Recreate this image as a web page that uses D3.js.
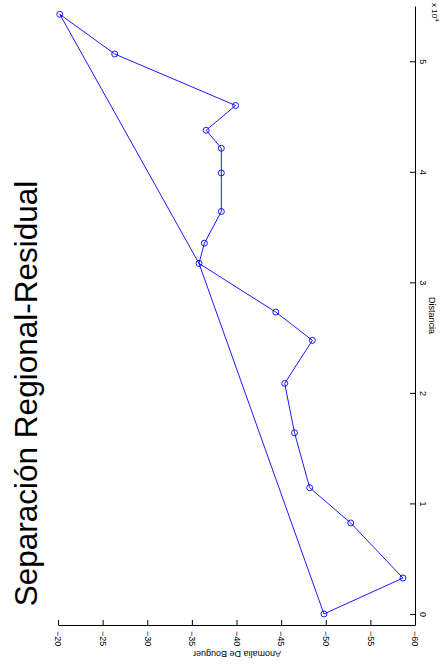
<!DOCTYPE html>
<html>
<head>
<meta charset="utf-8">
<script src="https://cdn.jsdelivr.net/npm/d3@7"></script>
<style>
  html, body { margin: 0; padding: 0; background: #ffffff; }
  svg { display: block; }
</style>
</head>
<body>
<svg id="chart" width="444" height="669"></svg>
<script>
// ---- data ----
const distancia = [0, 3250, 8230, 11420, 16390, 20860, 24750, 27310, 31710, 33540, 36410, 39900, 42130, 43760, 46000, 50660, 54250];
const anomalia  = [-49.8, -58.65, -52.8, -48.2, -46.5, -45.4, -48.5, -44.4, -35.8, -36.4, -38.3, -38.3, -38.3, -36.6, -39.9, -26.35, -20.2];
const regionalDist = [0, 31710, 54250];
const regionalAnom = [-49.8, -35.8, -20.2];
const anomaliaTicks = [-20, -25, -30, -35, -40, -45, -50, -55, -60];
const distanciaTicks = [0, 10000, 20000, 30000, 40000, 50000];
const titleText = "Separación Regional-Residual";
const xLabelText = "Distancia";
const yLabelText = "Anomalia De Bouguer";

const svg = d3.select("#chart");
const font = "Arial, 'Liberation Sans', Helvetica, sans-serif";
const blue = "#0000ff";

// Rotated chart: anomaly runs horizontally, distance runs vertically
const xA = d3.scaleLinear().domain([-20, -60]).range([58, 415]);
const yD = d3.scaleLinear().domain([-1000, 55000]).range([625, 6]);

// Bottom axis (Anomalia)
const gB = svg.append("g").attr("transform", "translate(0,625)")
  .call(d3.axisBottom(xA).tickValues(anomaliaTicks).tickSizeInner(-5).tickSizeOuter(0).tickFormat(d3.format("d")));
gB.select(".domain").attr("stroke", "#000");
gB.selectAll(".tick line").attr("stroke", "#000");
gB.selectAll(".tick text")
  .attr("font-family", font).attr("font-size", 9).attr("fill", "#000")
  .attr("text-anchor", "start")
  .attr("x", 0).attr("y", 0).attr("dy", null)
  .attr("transform", "translate(-3.2,6) rotate(90)");

// Right axis (Distancia)
const gR = svg.append("g").attr("transform", "translate(415,0)")
  .call(d3.axisRight(yD).tickValues(distanciaTicks).tickSizeInner(-5).tickSizeOuter(0).tickFormat(d => d / 10000));
gR.select(".domain").attr("stroke", "#000");
gR.selectAll(".tick line").attr("stroke", "#000");
gR.selectAll(".tick text")
  .attr("font-family", font).attr("font-size", 9).attr("fill", "#000")
  .attr("text-anchor", "middle")
  .attr("x", 0).attr("y", 0).attr("dy", null)
  .attr("transform", "translate(5,0) rotate(90)");

// x 10^4 multiplier
const mult = svg.append("text")
  .attr("transform", "translate(432,3) rotate(90)")
  .attr("font-family", font).attr("font-size", 8).attr("fill", "#000");
mult.append("tspan").text("x 10");
mult.append("tspan").attr("dy", -3).attr("font-size", 6).text("4");

// Axis labels
svg.append("text")
  .attr("transform", `translate(429,${(yD(-1000) + yD(55000)) / 2}) rotate(90)`)
  .attr("text-anchor", "middle")
  .attr("font-family", font).attr("font-size", 9).attr("fill", "#000")
  .text(xLabelText);

svg.append("text")
  .attr("transform", "translate(237,650.5) rotate(180)")
  .attr("text-anchor", "middle")
  .attr("font-family", font).attr("font-size", 9).attr("fill", "#000")
  .text(yLabelText);

// Title
svg.append("text")
  .attr("transform", "translate(37,393.5) rotate(-90)")
  .attr("text-anchor", "middle")
  .attr("font-family", font).attr("font-size", 31.5).attr("fill", "#000")
  .text(titleText);

// Data
const pts = distancia.map((d, i) => ({ d: d, a: anomalia[i] }));
const regional = regionalDist.map((d, i) => ({ d: d, a: regionalAnom[i] }));
const line = d3.line().x(p => xA(p.a)).y(p => yD(p.d));

// Regional line
svg.append("path").datum(regional)
  .attr("d", line).attr("fill", "none").attr("stroke", blue).attr("stroke-width", 0.9);

// Residual profile
svg.append("path").datum(pts)
  .attr("d", line).attr("fill", "none").attr("stroke", blue).attr("stroke-width", 0.9);

svg.append("g").selectAll("circle").data(pts).join("circle")
  .attr("cx", p => xA(p.a)).attr("cy", p => yD(p.d)).attr("r", 3)
  .attr("fill", "none").attr("stroke", blue).attr("stroke-width", 0.9);
</script>
</body>
</html>
